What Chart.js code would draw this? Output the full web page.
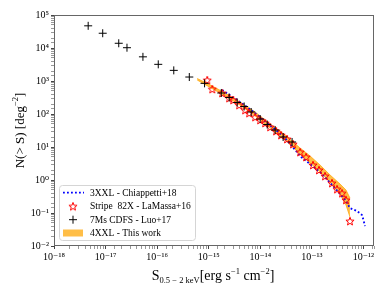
<!DOCTYPE html>
<html>
<head>
<meta charset="utf-8">
<script src="https://cdn.jsdelivr.net/npm/chart.js@4.4.1/dist/chart.umd.min.js"></script>
<style>
  html, body { margin: 0; padding: 0; background: #fff; }
  #wrap { width: 390px; height: 293px; }
</style>
</head>
<body>
<div id="wrap"><canvas id="lognlogs"></canvas></div>
<script>
// 7Ms CDFS - Luo+17 (black crosses)
const luoS = [4.6e-18, 8.8e-18, 1.8e-17, 2.6e-17, 5.3e-17, 1.05e-16, 2.1e-16, 4.2e-16, 8.3e-16,
              1.75e-15, 2.49e-15, 3.56e-15, 4.86e-15, 6.65e-15, 9.93e-15, 1.36e-14, 1.94e-14, 2.77e-14, 4.13e-14];
const luoN = [4.7e4, 2.8e4, 1.39e4, 1.02e4, 5.4e3, 3.2e3, 2.1e3, 1.32e3, 850,
              433, 316, 223, 169, 115, 70.5, 48, 32.7, 20.1, 14.2];

// Stripe 82X - LaMassa+16 (red open stars)
const stripeS = [9.35e-16, 1.17e-15, 1.82e-15, 2.49e-15, 2.98e-15, 3.89e-15, 5.08e-15, 6.08e-15, 7.94e-15,
                 9.93e-15, 1.24e-14, 1.55e-14, 2.02e-14, 2.53e-14, 3.30e-14, 4.31e-14, 5.9e-14, 7.71e-14,
                 1.05e-13, 1.37e-13, 1.80e-13, 2.45e-13, 3.07e-13, 3.84e-13, 4.58e-13, 5.47e-13];
const stripeN = [1071, 572, 433, 305, 266, 187, 132, 107, 81,
                 65.8, 53.4, 40.4, 30.5, 23.1, 17.5, 12.3, 7.05, 4.98,
                 2.85, 2.01, 1.32, 0.81, 0.53, 0.40, 0.25, 0.057];

// 3XXL - Chiappetti+18 (blue dotted)
const chiS = [1.82e-15, 3.56e-15, 6.65e-15, 1.36e-14, 2.77e-14, 6.2e-14, 1.44e-13, 2.8e-13,
              4.4e-13, 5.5e-13, 7.5e-13, 9.35e-13, 1.0e-12, 1.07e-12];
const chiN = [533, 266, 132, 53, 21.5, 4.97, 1.75, 0.57,
              0.25, 0.14, 0.115, 0.087, 0.061, 0.040];

// 4XXL - This work (orange band)
const bandS  = [5.98e-16, 1.07e-15, 2.08e-15, 4.02e-15, 7.94e-15, 1.55e-14, 3.02e-14,
                5.9e-14, 9.23e-14, 1.44e-13, 2.25e-13, 3.51e-13, 4.58e-13, 5.47e-13];
const bandHi = [1191, 757, 433, 231, 115, 49.8, 23.1, 9.33, 5.33, 2.85, 1.42, 0.757, 0.498, 0.285];
const bandLo = [1072, 635, 351, 187, 86.9, 37.7, 16.3, 6.14, 3.28, 1.75, 0.869, 0.377, 0.175, 0.0757];

const legendLabels = ['3XXL - Chiappetti+18', 'Stripe  82X - LaMassa+16', '7Ms CDFS - Luo+17', '4XXL - This work'];

const SERIF = '"Liberation Serif", "DejaVu Serif", serif';
const ORANGE = 'rgba(255, 165, 0, 0.72)';

const pts = (xs, ys) => xs.map((x, i) => ({ x: x, y: ys[i] }));

const SUP = { '0': '\u2070', '1': '\u00b9', '2': '\u00b2', '3': '\u00b3', '4': '\u2074', '5': '\u2075',
              '6': '\u2076', '7': '\u2077', '8': '\u2078', '9': '\u2079', '-': '\u207b' };
const isDecade = v => { const l = Math.log10(v); return Math.abs(l - Math.round(l)) < 1e-6; };
const decadeLabel = v => {
  if (!isDecade(v)) return '';
  return '10' + String(Math.round(Math.log10(v))).split('').map(c => SUP[c]).join('');
};

function makeStar(color, r) {
  const c = document.createElement('canvas');
  const s = Math.ceil(r * 2 + 3);
  c.width = s; c.height = s;
  const g = c.getContext('2d');
  g.strokeStyle = color; g.lineWidth = 1;
  g.beginPath();
  for (let i = 0; i < 10; i++) {
    const rr = i % 2 ? r * 0.42 : r;
    const a = -Math.PI / 2 + i * Math.PI / 5;
    const px = s / 2 + rr * Math.cos(a), py = s / 2 + 0.5 + rr * Math.sin(a);
    i ? g.lineTo(px, py) : g.moveTo(px, py);
  }
  g.closePath(); g.stroke();
  return c;
}
const starImg = makeStar('#ff0000', 4.3);

function drawPieces(ctx, pieces, x, y) {
  pieces.forEach(p => {
    ctx.font = p.size + 'px ' + SERIF;
    ctx.fillText(p.t, x, y + (p.dy || 0));
    x += ctx.measureText(p.t).width;
  });
}
function piecesWidth(ctx, pieces) {
  let w = 0;
  pieces.forEach(p => { ctx.font = p.size + 'px ' + SERIF; w += ctx.measureText(p.t).width; });
  return w;
}

const decorations = {
  id: 'decorations',
  afterDatasetsDraw(chart) {
    const { ctx, chartArea: a } = chart;
    ctx.save();
    ctx.strokeStyle = '#666';
    ctx.lineWidth = 1;
    ctx.strokeRect(Math.round(a.left) + 0.5, Math.round(a.top) + 0.5,
                   Math.round(a.right - a.left) - 1, Math.round(a.bottom - a.top) - 1);
    ctx.restore();
  },
  afterDraw(chart) {
    const { ctx, chartArea: a } = chart;
    ctx.save();
    ctx.fillStyle = '#000';
    ctx.textBaseline = 'alphabetic';

    // x title
    const xt = [
      { t: 'S', size: 14 },
      { t: '0.5 \u2212 2 keV', size: 8.5, dy: 3 },
      { t: '[erg s', size: 14 },
      { t: '\u22121', size: 8.5, dy: -6 },
      { t: ' cm', size: 14 },
      { t: '\u22122', size: 8.5, dy: -6 },
      { t: ']', size: 14 }
    ];
    const cx = (a.left + a.right) / 2 - 1;
    drawPieces(ctx, xt, cx - piecesWidth(ctx, xt) / 2, 280);

    // y title
    const yt = [
      { t: 'N(> S) [deg', size: 13 },
      { t: '\u22122', size: 8.5, dy: -6 },
      { t: ']', size: 13 }
    ];
    ctx.save();
    ctx.translate(24, (a.top + a.bottom) / 2);
    ctx.rotate(-Math.PI / 2);
    drawPieces(ctx, yt, -piecesWidth(ctx, yt) / 2, 0);
    ctx.restore();

    // legend box
    const bx = 59.5, by = 185.5, bw = 136, bh = 55;
    ctx.beginPath();
    ctx.roundRect(bx, by, bw, bh, 3);
    ctx.fillStyle = 'rgba(255,255,255,0.85)';
    ctx.fill();
    ctx.strokeStyle = '#d5d5d5';
    ctx.lineWidth = 1;
    ctx.stroke();

    const rows = [192.7, 206.2, 219.7, 233];
    const mx = 73;
    // dotted blue sample
    ctx.save();
    ctx.strokeStyle = '#0000ff';
    ctx.lineWidth = 1.8;
    ctx.setLineDash([1.8, 2.2]);
    ctx.beginPath(); ctx.moveTo(63, rows[0]); ctx.lineTo(84, rows[0]); ctx.stroke();
    ctx.restore();
    // star
    ctx.drawImage(starImg, mx - starImg.width / 2, rows[1] - starImg.height / 2);
    // cross
    ctx.strokeStyle = '#000'; ctx.lineWidth = 1;
    ctx.beginPath();
    ctx.moveTo(mx - 4, rows[2]); ctx.lineTo(mx + 4, rows[2]);
    ctx.moveTo(mx, rows[2] - 4); ctx.lineTo(mx, rows[2] + 4);
    ctx.stroke();
    // orange patch
    ctx.fillStyle = ORANGE;
    ctx.fillRect(63, rows[3] - 3.5, 20, 7);

    ctx.fillStyle = '#000';
    ctx.font = '9.5px ' + SERIF;
    ctx.textBaseline = 'middle';
    legendLabels.forEach((t, i) => ctx.fillText(t, 90, rows[i] + 0.5));
    ctx.restore();
  }
};

const tickColor = c => (c.tick && isDecade(c.tick.value)) ? '#444' : '#999';

new Chart(document.getElementById('lognlogs'), {
  type: 'scatter',
  data: {
    datasets: [
      {
        label: '4XXL upper',
        data: pts(bandS, bandHi),
        showLine: true,
        borderColor: ORANGE,
        backgroundColor: ORANGE,
        borderWidth: 1,
        pointRadius: 0,
        fill: '+1',
        order: 4
      },
      {
        label: '4XXL lower',
        data: pts(bandS, bandLo),
        showLine: true,
        borderColor: ORANGE,
        borderWidth: 1,
        pointRadius: 0,
        fill: false,
        order: 4
      },
      {
        label: legendLabels[0],
        data: pts(chiS, chiN),
        showLine: true,
        borderColor: '#0000ff',
        borderWidth: 1.8,
        borderDash: [1.8, 2.2],
        pointRadius: 0,
        fill: false,
        order: 3
      },
      {
        label: legendLabels[1],
        data: pts(stripeS, stripeN),
        pointStyle: starImg,
        pointRadius: 4,
        order: 2
      },
      {
        label: legendLabels[2],
        data: pts(luoS, luoN),
        pointStyle: 'cross',
        pointRadius: 4,
        borderColor: '#000',
        borderWidth: 1,
        order: 1
      }
    ]
  },
  options: {
    responsive: true,
    maintainAspectRatio: false,
    animation: false,
    layout: { padding: { top: 15, right: 16, left: 0, bottom: 0 } },
    plugins: {
      legend: { display: false },
      tooltip: { enabled: false }
    },
    scales: {
      x: {
        type: 'logarithmic',
        min: 1e-18,
        max: 1.6e-12,
        afterFit: s => { s.height = 47; },
        border: { display: false },
        grid: { drawOnChartArea: false, drawTicks: true, tickLength: 3, tickColor: tickColor },
        ticks: {
          autoSkip: false,
          maxRotation: 0,
          padding: 2,
          color: '#000',
          font: { family: SERIF, size: 10 },
          callback: v => decadeLabel(v)
        }
      },
      y: {
        type: 'logarithmic',
        min: 1e-2,
        max: 1e5,
        afterFit: s => { s.width = 54; },
        border: { display: false },
        grid: { drawOnChartArea: false, drawTicks: true, tickLength: 3, tickColor: tickColor },
        ticks: {
          autoSkip: false,
          padding: 2,
          color: '#000',
          font: { family: SERIF, size: 10 },
          callback: v => decadeLabel(v)
        }
      }
    }
  },
  plugins: [decorations]
});
</script>
</body>
</html>
